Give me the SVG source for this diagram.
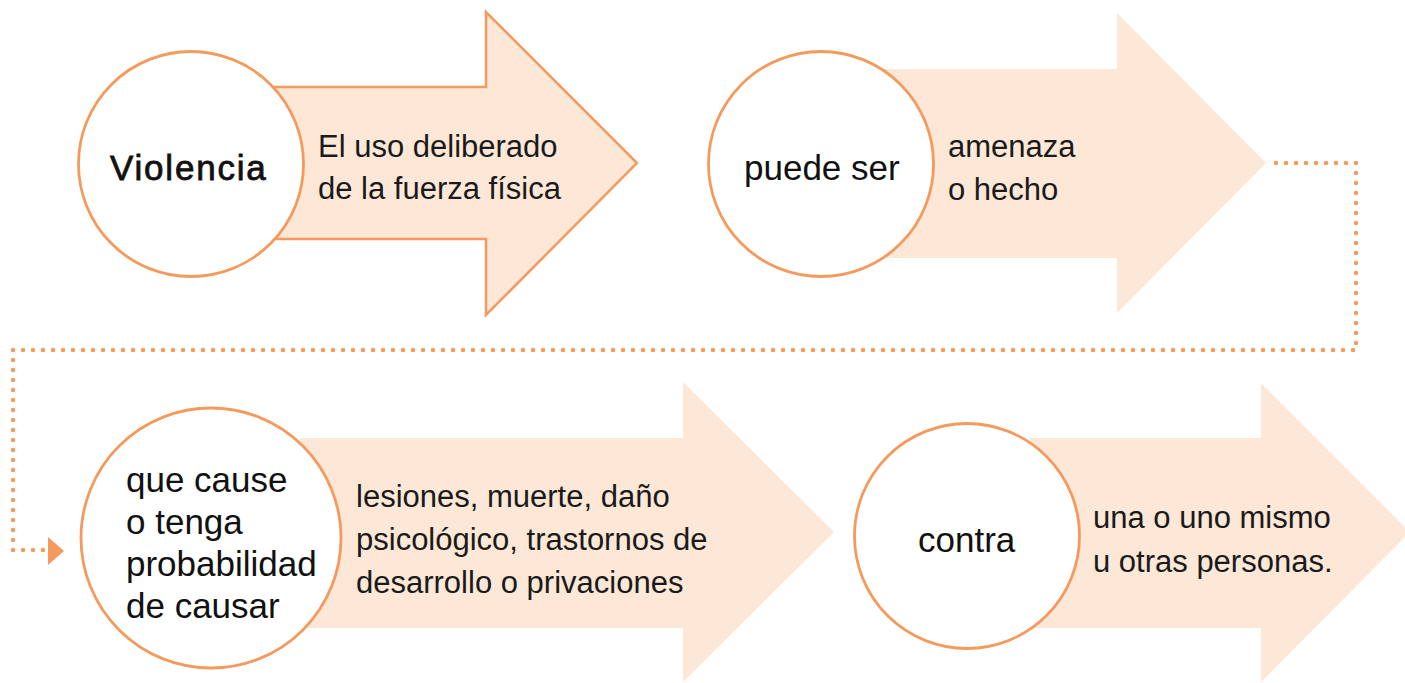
<svg xmlns="http://www.w3.org/2000/svg" width="1405" height="683" viewBox="0 0 1405 683">
<style>
.arrow{fill:#FDE7D6}
.arrow.out{stroke:#F59A5E;stroke-width:2.5;stroke-linejoin:miter}
.circ{fill:#ffffff;stroke:#F59A5E;stroke-width:2.8}
.ct{font-family:"Liberation Sans",Arial,sans-serif;font-size:35px;fill:#111111}
.at{font-family:"Liberation Sans",Arial,sans-serif;font-size:31px;fill:#1a1a1a}
.dot{fill:none;stroke:#F59A5E;stroke-width:4.5;stroke-linecap:round;stroke-dasharray:0 10}
</style>
<rect width="1405" height="683" fill="#ffffff"/>
<g id="connectors">
<path class="dot" d="M1276,163 H1356 V350 H13 V550 H44"/>
<polygon points="48,537 64,551 48,565" fill="#F59A5E"/>
</g>
<g id="node-violencia">
<polygon class="arrow out" points="260,87 486,87 486,12 637,163 486,315 486,239 260,239"/>
<circle class="circ" cx="191" cy="164" r="112.5"/>
<text class="ct" x="110" y="180" font-size="37" letter-spacing="1.8" stroke="#111111" stroke-width="0.8">Violencia</text>
<text class="at" x="318" y="157">El uso deliberado</text>
<text class="at" x="318" y="199">de la fuerza física</text>
</g>
<g id="node-puede">
<polygon class="arrow" points="880,69 1117,69 1117,13 1266,163 1117,313 1117,258 880,258"/>
<circle class="circ" cx="821" cy="164" r="112.5"/>
<text class="ct" x="744" y="180">puede ser</text>
<text class="at" x="948" y="157">amenaza</text>
<text class="at" x="948" y="200">o hecho</text>
</g>
<g id="node-cause">
<polygon class="arrow" points="300,438 683,438 683,382 834,532 683,682 683,628 300,628"/>
<circle class="circ" cx="211" cy="538" r="130"/>
<text class="ct" x="126" y="492">que cause</text>
<text class="ct" x="126" y="534">o tenga</text>
<text class="ct" x="126" y="576">probabilidad</text>
<text class="ct" x="126" y="618">de causar</text>
<text class="at" x="356" y="507">lesiones, muerte, daño</text>
<text class="at" x="356" y="550">psicológico, trastornos de</text>
<text class="at" x="356" y="593">desarrollo o privaciones</text>
</g>
<g id="node-contra">
<polygon class="arrow" points="1030,438 1261,438 1261,383 1410,532 1261,682 1261,628 1030,628"/>
<circle class="circ" cx="967" cy="536" r="112.5"/>
<text class="ct" x="918" y="552">contra</text>
<text class="at" x="1093" y="528">una o uno mismo</text>
<text class="at" x="1093" y="572">u otras personas.</text>
</g>
</svg>
